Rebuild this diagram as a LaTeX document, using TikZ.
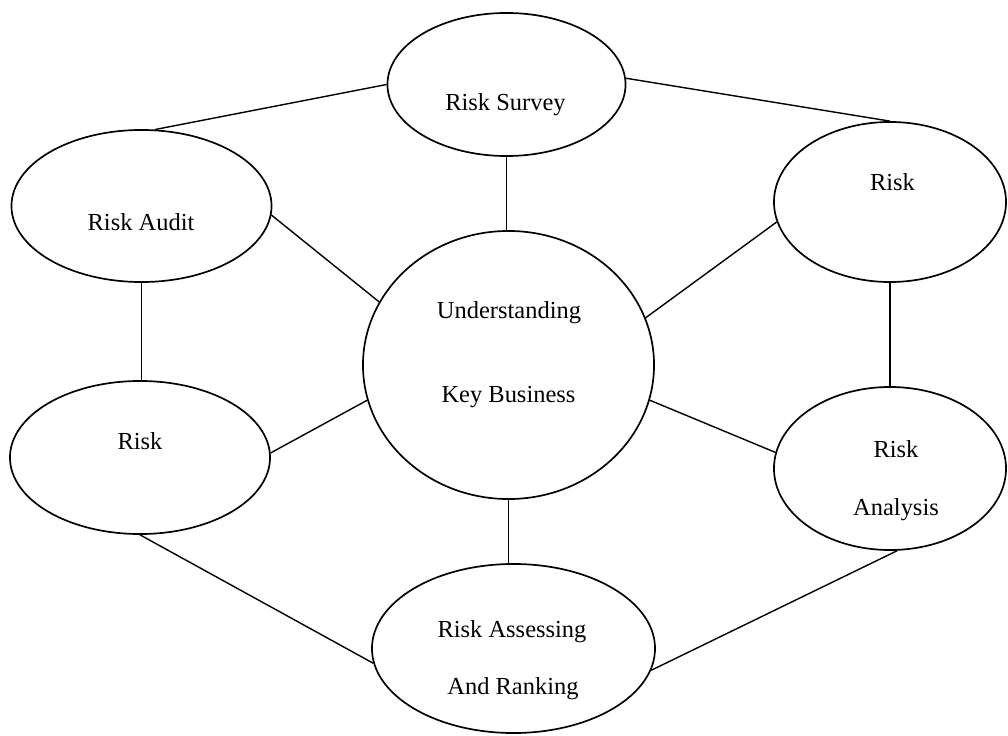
\documentclass[tikz,border=0pt]{standalone}
\usepackage{fontspec}
\setmainfont{Liberation Serif}
\usetikzlibrary{shapes.geometric}

\tikzset{
    bubble/.style 2 args={draw, ellipse, line width=1.2pt, inner sep=0pt,
        minimum width=#1, minimum height=#2},
    txt/.style={anchor=base, inner sep=0pt, font=\fontsize{17.4pt}{20pt}\selectfont},
    link/.style={line width=1pt}
}

\begin{document}
\begin{tikzpicture}[x=0.025cm, y=-0.025cm]
    \useasboundingbox (0,0) rectangle (1008,736);

    \node[bubble={5.95cm}{3.575cm}] (survey) at (506.5,84.5) {};
    \node[bubble={6.5cm}{3.8cm}] (audit) at (141.5,206) {};
    \node[bubble={6.5cm}{3.825cm}] (riskl) at (140,457.5) {};
    \node[bubble={7.275cm}{6.7cm}] (core) at (508.5,365) {};
    \node[bubble={5.8cm}{4cm}] (riskr) at (890,202) {};
    \node[bubble={5.8cm}{4.075cm}] (analysis) at (890,468.5) {};
    \node[bubble={7.075cm}{4.225cm}] (assess) at (513.5,648.5) {};

    \node[txt] (surveytxt) at (505.5,111) {Risk Survey};
    \node[txt] (audittxt) at (141,230) {Risk Audit};
    \node[txt] (riskltxt) at (140,449) {Risk};
    \node[txt] (riskrtxt) at (892.5,191) {Risk};
    \node[txt] (coretxta) at (509,318) {Understanding};
    \node[txt] (coretxtb) at (508.5,402) {Key Business};
    \node[txt] (analysistxta) at (896,457) {Risk};
    \node[txt] (analysistxtb) at (896,515) {Analysis};
    \node[txt] (assesstxta) at (512,637) {Risk Assessing};
    \node[txt] (assesstxtb) at (513,694) {And Ranking};

    \draw[link] (survey.180) -- (audit.80);
    \draw[link] (survey.3) -- (riskr.north);
    \draw[link] (survey.south) -- (survey.south |- core.north);
    \draw[link] (audit.-4) -- (core.154);
    \draw[link] (audit.south) -- (audit.south |- riskl.north);
    \draw[link] (riskr.190) -- (core.19);
    \draw[link] (riskr.south) -- (riskr.south |- analysis.north);
    \draw[link] (riskl.2) -- (core.194);
    \draw[link] (analysis.172.5) -- (core.-14);
    \draw[link] (core.south) -- (core.south |- assess.north);
    \draw[link] (riskl.south) -- (assess.186);
    \draw[link] (analysis.-85) -- (assess.-9);
\end{tikzpicture}
\end{document}
